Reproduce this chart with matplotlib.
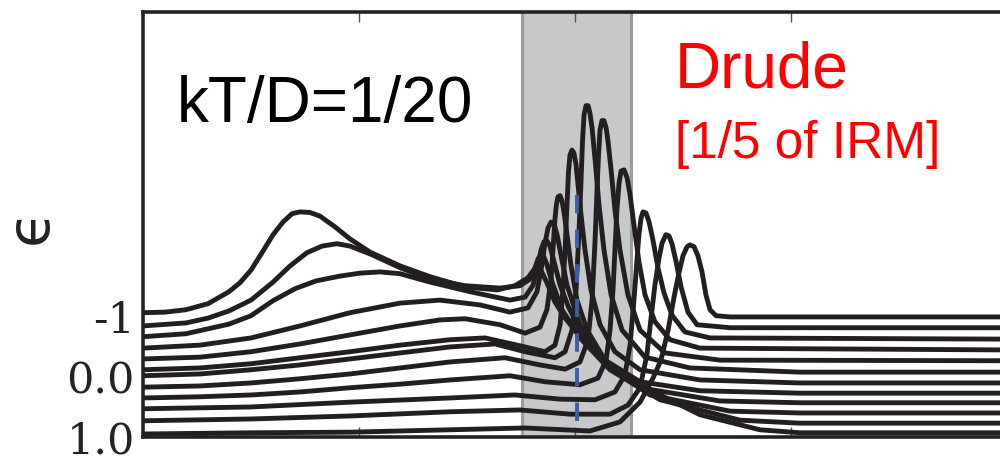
import matplotlib.pyplot as plt

# frequency axis in units of D, eps offsets stacked (axis inverted, -1 at top)
x0 = [0, 0.102, 0.199, 0.301, 0.398, 0.449, 0.5, 0.551, 0.602, 0.648, 0.690, 0.727, 0.773, 0.819, 0.889,
      0.958, 1.051, 1.190, 1.329, 1.491, 1.639, 1.722, 1.782, 1.806, 1.824, 1.843, 1.870, 1.907, 1.954,
      2.069, 2.255, 2.579, 2.856, 3.042, 4.0]
y0 = [-1.07, -1.08, -1.12, -1.22, -1.42, -1.57, -1.78, -2.07, -2.37, -2.58, -2.72, -2.75, -2.74, -2.68, -2.50,
      -2.30, -2.08, -1.85, -1.67, -1.50, -1.45, -1.52, -1.65, -1.77, -1.82, -1.77, -1.57, -1.25, -0.98,
      -0.48, 0.05, 0.63, 0.88, 0.93, 0.93]

x1 = [0, 0.199, 0.301, 0.398, 0.5, 0.602, 0.681, 0.759, 0.829, 0.898, 0.958, 1.051, 1.190, 1.329, 1.491,
      1.653, 1.745, 1.792, 1.815, 1.829, 1.843, 1.856, 1.870, 1.894, 1.940, 2.023, 2.162, 2.394, 2.764,
      3.042, 4.0]
y1 = [-0.85, -0.90, -0.98, -1.10, -1.28, -1.58, -1.85, -2.07, -2.18, -2.22, -2.18, -2.05, -1.82, -1.63, -1.52,
      -1.48, -1.52, -1.63, -1.82, -1.97, -2.03, -2.00, -1.87, -1.58, -1.12, -0.65, -0.12, 0.38, 0.72,
      0.77, 0.77]

x2 = [0, 0.199, 0.398, 0.5, 0.602, 0.704, 0.801, 0.912, 1.005, 1.097, 1.190, 1.329, 1.514, 1.699, 1.769,
      1.806, 1.829, 1.843, 1.856, 1.870, 1.884, 1.903, 1.931, 1.968, 2.023, 2.139, 2.347, 2.718, 3.042, 4.0]
y2 = [-0.67, -0.72, -0.88, -1.02, -1.27, -1.47, -1.60, -1.68, -1.73, -1.75, -1.72, -1.58, -1.42, -1.28, -1.33,
      -1.53, -1.87, -2.12, -2.25, -2.27, -2.18, -1.92, -1.53, -1.18, -0.78, -0.20, 0.30, 0.57, 0.60, 0.60]

x3 = [0, 0.264, 0.5, 0.727, 0.958, 1.190, 1.375, 1.560, 1.699, 1.782, 1.824, 1.847, 1.861, 1.875, 1.889,
      1.903, 1.917, 1.935, 1.963, 2.023, 2.116, 2.301, 2.671, 3.042, 4.0]
y3 = [-0.48, -0.53, -0.65, -0.85, -1.07, -1.23, -1.28, -1.20, -1.08, -1.15, -1.42, -1.87, -2.23, -2.48, -2.58,
      -2.55, -2.37, -2.03, -1.53, -0.87, -0.32, 0.18, 0.40, 0.43, 0.43]

x4 = [0, 0.264, 0.5, 0.727, 0.958, 1.190, 1.375, 1.491, 1.653, 1.769, 1.838, 1.870, 1.889, 1.898, 1.907,
      1.914, 1.921, 1.931, 1.940, 1.949, 1.963, 1.981, 2.009, 2.056, 2.139, 2.301, 2.579, 3.042, 4.0]
y4 = [-0.30, -0.33, -0.42, -0.55, -0.70, -0.85, -0.95, -0.97, -0.87, -0.73, -0.83, -1.12, -1.62, -2.12, -2.62,
      -2.87, -3.00, -3.02, -2.93, -2.75, -2.37, -1.87, -1.28, -0.78, -0.28, 0.08, 0.23, 0.27, 0.27]

x5 = [0, 0.264, 0.5, 0.727, 0.958, 1.190, 1.421, 1.583, 1.745, 1.861, 1.907, 1.931, 1.944, 1.954, 1.963,
      1.970, 1.977, 1.986, 1.995, 2.005, 2.014, 2.028, 2.046, 2.074, 2.116, 2.185, 2.301, 2.579, 3.042, 4.0]
y5 = [-0.12, -0.15, -0.22, -0.32, -0.42, -0.53, -0.62, -0.65, -0.52, -0.42, -0.53, -0.87, -1.45, -2.12, -2.87,
      -3.42, -3.70, -3.78, -3.73, -3.53, -3.20, -2.70, -2.12, -1.45, -0.87, -0.42, -0.12, 0.05, 0.10, 0.10]

x6 = [0, 0.264, 0.5, 0.727, 0.958, 1.190, 1.421, 1.630, 1.769, 1.907, 1.954, 1.986, 2.005, 2.019, 2.028,
      2.035, 2.042, 2.051, 2.060, 2.069, 2.079, 2.093, 2.111, 2.134, 2.167, 2.218, 2.324, 2.532, 3.042, 4.0]
y6 = [-0.02, -0.05, -0.12, -0.20, -0.30, -0.40, -0.50, -0.55, -0.42, -0.32, -0.42, -0.78, -1.45, -2.45, -3.28,
      -3.95, -4.37, -4.52, -4.52, -4.40, -4.15, -3.62, -2.87, -2.12, -1.37, -0.78, -0.33, -0.15, -0.08, -0.08]

x7 = [0, 0.264, 0.5, 0.727, 0.958, 1.190, 1.421, 1.676, 1.838, 1.954, 2.023, 2.060, 2.079, 2.093, 2.102,
      2.109, 2.116, 2.125, 2.134, 2.144, 2.153, 2.167, 2.185, 2.208, 2.245, 2.301, 2.417, 2.671, 4.0]
y7 = [0.17, 0.15, 0.10, 0.03, -0.05, -0.15, -0.25, -0.32, -0.20, -0.13, -0.25, -0.62, -1.28, -2.28, -3.12,
      -3.70, -4.12, -4.27, -4.27, -4.15, -3.92, -3.45, -2.78, -2.12, -1.37, -0.78, -0.40, -0.28, -0.27]

x8 = [0, 0.264, 0.5, 0.727, 0.958, 1.190, 1.421, 1.699, 1.861, 2.023, 2.106, 2.144, 2.162, 2.176, 2.185,
      2.194, 2.204, 2.213, 2.227, 2.241, 2.255, 2.273, 2.296, 2.324, 2.370, 2.440, 2.579, 4.0]
y8 = [0.35, 0.33, 0.30, 0.25, 0.18, 0.12, 0.05, -0.02, 0.08, 0.13, 0.02, -0.28, -0.78, -1.45, -2.12,
      -2.78, -3.23, -3.43, -3.45, -3.32, -3.03, -2.53, -1.92, -1.37, -0.92, -0.62, -0.48, -0.45]

x9 = [0, 0.5, 0.958, 1.421, 1.722, 1.931, 2.093, 2.185, 2.231, 2.255, 2.273, 2.287, 2.296, 2.306, 2.315,
      2.329, 2.343, 2.361, 2.384, 2.412, 2.449, 2.509, 2.625, 4.0]
y9 = [0.53, 0.50, 0.42, 0.35, 0.30, 0.37, 0.38, 0.25, -0.03, -0.53, -1.28, -1.95, -2.37, -2.65, -2.75,
      -2.73, -2.58, -2.28, -1.82, -1.40, -1.03, -0.75, -0.65, -0.63]

x10 = [0, 0.5, 0.958, 1.421, 1.745, 1.977, 2.162, 2.245, 2.301, 2.333, 2.352, 2.370, 2.389, 2.403, 2.421,
       2.435, 2.449, 2.468, 2.491, 2.523, 2.565, 2.718, 4.0]
y10 = [0.73, 0.70, 0.65, 0.58, 0.55, 0.62, 0.62, 0.47, 0.18, -0.37, -0.98, -1.53, -1.98, -2.23, -2.37,
       -2.35, -2.22, -1.92, -1.50, -1.08, -0.87, -0.82, -0.82]

x11 = [0, 0.5, 0.958, 1.421, 1.769, 2.069, 2.208, 2.301, 2.361, 2.398, 2.431, 2.458, 2.481, 2.500, 2.519,
       2.532, 2.551, 2.569, 2.588, 2.606, 2.625, 2.653, 2.718, 4.0]
y11 = [0.95, 0.93, 0.92, 0.88, 0.85, 0.90, 0.75, 0.42, 0.02, -0.28, -0.78, -1.32, -1.73, -2.02, -2.17,
       -2.20, -2.17, -2.02, -1.75, -1.37, -1.12, -1.02, -1.00, -1.00]

curves = [(x0, y0), (x1, y1), (x2, y2), (x3, y3), (x4, y4), (x5, y5),
          (x6, y6), (x7, y7), (x8, y8), (x9, y9), (x10, y10), (x11, y11)]

band_lo, band_hi = 1.755, 2.259
mark_x, mark_top = 2.009, -3.03

ytick_pos = [-1, 0, 1]
ytick_labels = ['-1', '0.0', '1.0']

fig = plt.figure(figsize=(10, 4.57), dpi=100)
ax = fig.add_axes([0.143, 0.0438, 0.864, 0.930])

ax.axvspan(band_lo, band_hi, color='#c7c8ca', lw=0, zorder=0)
for xb in (band_lo, band_hi):
    ax.axvline(xb, color='#9c9c9c', lw=2.2, zorder=0.5)

for xs, ys in curves:
    ax.plot(xs, ys, color='#231f20', lw=3.5, solid_joinstyle='round',
            solid_capstyle='round', zorder=2)

ax.plot([mark_x, mark_x], [mark_top, 1.0], color='#3b5dab', lw=2.8,
        dashes=(4.7, 4.2), zorder=3)

ax.set_xlim(0, 4)
ax.set_ylim(1.0, -6.08)
ax.set_xticks([1, 2, 3])
ax.set_xticklabels([])
ax.tick_params(axis='x', direction='in', top=True, bottom=True,
               length=7, width=1, color='#555555')
ax.set_yticks(ytick_pos)
ax.set_yticklabels(ytick_labels, fontfamily='DejaVu Serif', fontsize=31, color='#222222')
ax.tick_params(axis='y', length=0, pad=6)
for s in ax.spines.values():
    s.set_linewidth(2.6)
    s.set_color('#222222')

# lunate epsilon as the y label, turned with the axis
ax.text(-0.131, 0.496, '\u03f5', transform=ax.transAxes, rotation=90,
        fontfamily='DejaVu Sans', fontsize=42, color='#222222', ha='center', va='center')

ax.text(0.157, -4.25, 'kT/D=1/20', fontfamily='Liberation Sans', fontsize=46,
        color='black', ha='left', va='baseline')
ax.text(2.463, -4.82, 'Drude', fontfamily='Liberation Sans', fontsize=46,
        color='#ff0000', ha='left', va='baseline')
ax.text(2.463, -3.65, '[1/5 of IRM]', fontfamily='Liberation Sans', fontsize=37,
        color='#ff0000', ha='left', va='baseline')

fig.savefig('out.png', dpi=100)
